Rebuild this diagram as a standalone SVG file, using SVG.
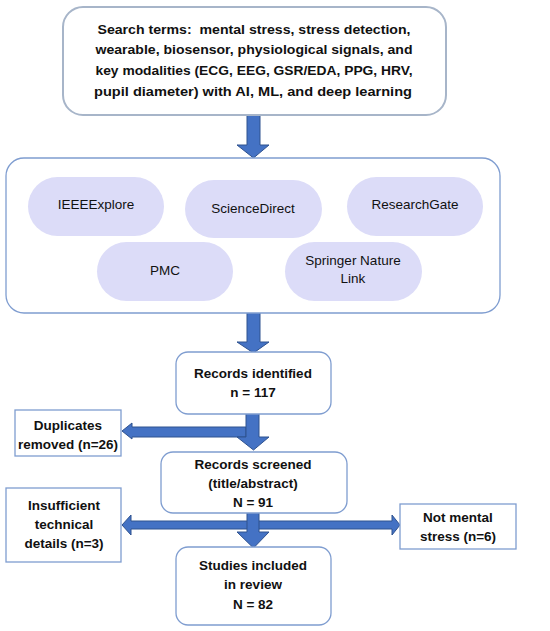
<svg xmlns="http://www.w3.org/2000/svg" width="550" height="631" viewBox="0 0 550 631">
<style>
.box{fill:#fff;stroke:#7f9dd0;stroke-width:1.3}
.top{fill:#fff;stroke:#a7b5c9;stroke-width:2}
.pill{fill:#dcdcf8;stroke:none}
.arr{fill:#4472c4;stroke:#2f528f;stroke-width:1}
.b{font-family:"Liberation Sans",Arial,sans-serif;font-weight:bold;font-size:13.5px;fill:#111;text-anchor:middle}
.r{font-family:"Liberation Sans",Arial,sans-serif;font-size:13.5px;fill:#111;text-anchor:middle}
</style>
<rect width="550" height="631" fill="#fff"/>
<g id="connectors">
<polygon class="arr" points="247,115 260,115 260,145 269,145 253.5,158 237,145 247,145"/>
<polygon class="arr" points="247,312 260,312 260,342 269,342 253.5,353 237,342 247,342"/>
<polygon class="arr" points="132,427 246,427 246,437 132,437 132,439 122,431 132,423"/>
<polygon class="arr" points="246,413 259,413 259,437 269,437 253.5,450 237,437 246,437"/>
<polygon class="arr" points="131,521 392,521 392,515 400,525 392,535 392,529 131,529 131,535 122,525 131,515"/>
<polygon class="arr" points="247,512 259,512 259,532 269,532 253.5,548 237,532 247,532"/>
</g>
<g id="search">
<rect class="top" x="63" y="7" width="383" height="108" rx="20"/>
<text class="b" x="254" y="34" textLength="313" lengthAdjust="spacingAndGlyphs">Search terms:&#160; mental stress, stress detection,</text>
<text class="b" x="254" y="54" textLength="317" lengthAdjust="spacingAndGlyphs">wearable, biosensor, physiological signals, and</text>
<text class="b" x="254" y="75" textLength="317" lengthAdjust="spacingAndGlyphs">key modalities (ECG, EEG, GSR/EDA, PPG, HRV,</text>
<text class="b" x="253" y="96" textLength="318" lengthAdjust="spacingAndGlyphs">pupil diameter) with AI, ML, and deep learning</text>
</g>
<g id="databases">
<rect class="box" x="6" y="158" width="494" height="155" rx="18"/>
</g>
<g id="ieee"><rect class="pill" x="28" y="177" width="136" height="59" rx="29.5"/><text class="r" x="96" y="209">IEEEExplore</text></g>
<g id="sciencedirect"><rect class="pill" x="185" y="180" width="137" height="58" rx="29"/><text class="r" x="253" y="213">ScienceDirect</text></g>
<g id="researchgate"><rect class="pill" x="347" y="177" width="136" height="59" rx="29.5"/><text class="r" x="415" y="209">ResearchGate</text></g>
<g id="pmc"><rect class="pill" x="97" y="242" width="136" height="59" rx="29.5"/><text class="r" x="165" y="275">PMC</text></g>
<g id="springer"><rect class="pill" x="285" y="242" width="137" height="59" rx="29.5"/><text class="r" x="353" y="265">Springer Nature</text><text class="r" x="353" y="283">Link</text></g>
<g id="identified">
<rect class="box" x="176" y="352" width="155" height="62" rx="12"/>
<text class="b" x="253" y="378">Records identified</text>
<text class="b" x="253" y="397">n = 117</text>
</g>
<g id="duplicates">
<rect class="box" x="15" y="410" width="106" height="46"/>
<text class="b" x="68" y="430">Duplicates</text>
<text class="b" x="68" y="449">removed (n=26)</text>
</g>
<g id="screened">
<rect class="box" x="161" y="452" width="186" height="61" rx="12"/>
<text class="b" x="253" y="469">Records screened</text>
<text class="b" x="253" y="488">(title/abstract)</text>
<text class="b" x="253" y="507">N = 91</text>
</g>
<g id="insufficient">
<rect class="box" x="6" y="488" width="115" height="74"/>
<text class="b" x="64" y="510">Insufficient</text>
<text class="b" x="64" y="529">technical</text>
<text class="b" x="64" y="548">details (n=3)</text>
</g>
<g id="notmental">
<rect class="box" x="400" y="504" width="116" height="45"/>
<text class="b" x="458" y="522">Not mental</text>
<text class="b" x="458" y="541">stress (n=6)</text>
</g>
<g id="included">
<rect class="box" x="176" y="547" width="155" height="78" rx="12"/>
<text class="b" x="253" y="570">Studies included</text>
<text class="b" x="253" y="589">in review</text>
<text class="b" x="253" y="609">N = 82</text>
</g>
</svg>
